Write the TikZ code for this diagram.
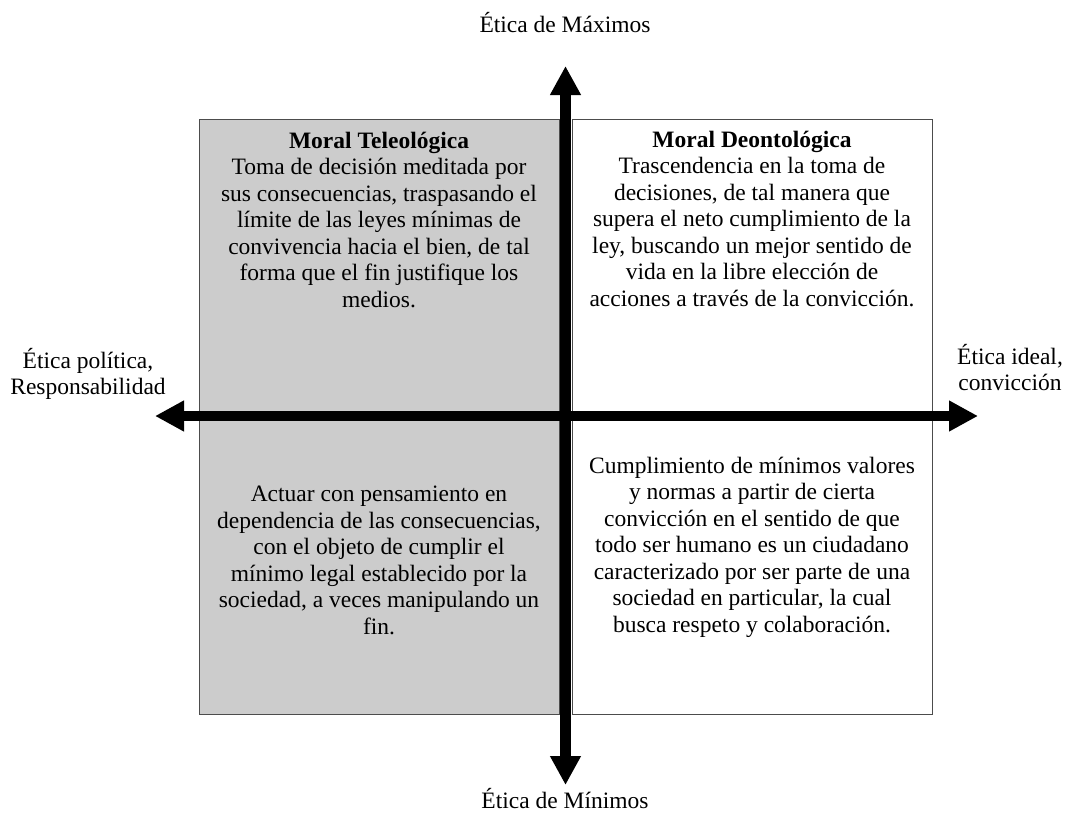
\documentclass[tikz,border=0pt]{standalone}
\usepackage{fontspec}
\setmainfont{Liberation Serif}
\usetikzlibrary{arrows.meta}
\begin{document}
\begin{tikzpicture}[x=1pt,y=-1pt,
  quad/.style={draw=black!70,line width=1pt},
  axis/.style={line width=10.5pt,{Triangle[length=29pt,width=29pt]}-{Triangle[length=29pt,width=29pt]}},
  txt/.style={align=center,inner sep=0pt,anchor=base,font=\fontsize{23.5}{26.5}\selectfont},
  lbl/.style={align=center,inner sep=0pt,anchor=base,font=\fontsize{23.5}{25.5}\selectfont}]
\useasboundingbox (0,0) rectangle (1068,819);
\fill[white] (0,0) rectangle (1068,819);
% quadrant boxes
\draw[quad,fill=black!20] (199,119) rectangle (559,714);
\draw[quad,fill=white] (572,119) rectangle (932,714);
% axes
\coordinate (top) at (565.5,66);
\coordinate (bot) at (565.5,785);
\coordinate (lft) at (155,416);
\coordinate (rgt) at (978,416);
\draw[axis] (bot) -- (top);
\draw[axis] (lft) -- (rgt);
% quadrant texts (base anchor = baseline of last line)
\node[txt] (tl) at (379,307) {\textbf{Moral Teleológica}\\Toma de decisión meditada por\\sus consecuencias, traspasando el\\límite de las leyes mínimas de\\convivencia hacia el bien, de tal\\forma que el fin justifique los\\medios.};
\node[txt] (tr) at (752,306) {\textbf{Moral Deontológica}\\Trascendencia en la toma de\\decisiones, de tal manera que\\supera el neto cumplimiento de la\\ley, buscando un mejor sentido de\\vida en la libre elección de\\acciones a través de la convicción.};
\node[txt] (bl) at (379,634) {Actuar con pensamiento en\\dependencia de las consecuencias,\\con el objeto de cumplir el\\mínimo legal establecido por la\\sociedad, a veces manipulando un\\fin.};
\node[txt] (br) at (752,632) {Cumplimiento de mínimos valores\\y normas a partir de cierta\\convicción en el sentido de que\\todo ser humano es un ciudadano\\caracterizado por ser parte de una\\sociedad en particular, la cual\\busca respeto y colaboración.};
% axis labels
\node[lbl] (lmax) at (565,32) {Ética de Máximos};
\node[lbl] (lmin) at (565,808) {Ética de Mínimos};
\node[lbl] (lpol) at (88,394) {Ética política,\\Responsabilidad};
\node[lbl] (lide) at (1010,390) {Ética ideal,\\convicción};
\end{tikzpicture}
\end{document}
